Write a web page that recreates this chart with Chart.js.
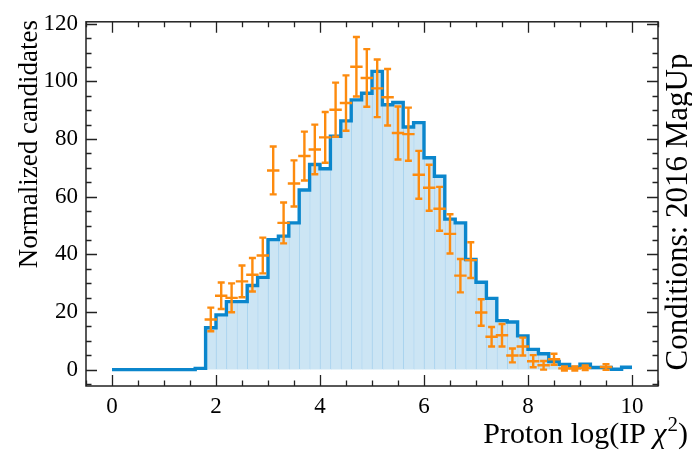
<!DOCTYPE html>
<html><head><meta charset="utf-8">
<script src="https://cdn.jsdelivr.net/npm/chart.js@4.4.0/dist/chart.umd.min.js"></script>
<style>html,body{margin:0;padding:0;background:#fff;}</style>
</head><body>
<canvas id="c" width="692" height="450"></canvas>
<script>
// ---------------- data ----------------
const binWidth = 0.2;
const binLeftEdges = [0.0,0.2,0.4,0.6,0.8,1.0,1.2,1.4,1.6,1.8,
  2.0,2.2,2.4,2.6,2.8,3.0,3.2,3.4,3.6,3.8,
  4.0,4.2,4.4,4.6,4.8,5.0,5.2,5.4,5.6,5.8,
  6.0,6.2,6.4,6.6,6.8,7.0,7.2,7.4,7.6,7.8,
  8.0,8.2,8.4,8.6,8.8,9.0,9.2,9.4,9.6,9.8];
const simValues = [0,0,0,0,0,0,0,0,0.4,14.5,
  19.0,23.6,23.6,29.2,32.0,45.1,46.3,50.9,62.3,71.2,
  69.7,81.0,86.3,93.6,95.9,103.5,91.9,92.7,84.2,85.7,
  73.5,67.1,52.2,50.9,38.2,30.3,24.7,17.0,16.5,11.7,
  7.0,5.5,2.8,1.8,0.7,1.9,0.7,0.7,0.1,0.8];
const dataCenters = [1.9,2.1,2.3,2.5,2.7,2.9,3.1,3.3,3.5,3.7,3.9,
  4.1,4.3,4.5,4.7,4.9,5.1,5.3,5.5,5.7,5.9,
  6.1,6.3,6.5,6.7,6.9,7.1,7.3,7.5,7.7,7.9,
  8.1,8.3,8.5,8.7,8.9,9.1,9.3,9.5,9.7,9.9];
const dataValues = [17.4,25.6,24.9,30.6,32.9,39.6,69.1,50.9,64.6,74.1,76.4,
  80.6,90.2,92.5,105.1,101.2,97.6,94.5,82.1,81.7,67.6,
  63.1,55.8,47.1,32.6,38.0,19.8,11.4,11.9,4.9,8.0,
  2.9,1.5,3.6,0.4,0.4,0.6,null,0.9,null,null];
const dataErrors = [4.1,4.6,5.0,5.5,5.8,6.2,8.3,7.1,8.0,8.5,8.6,
  8.8,9.4,9.6,10.3,10.0,10.0,9.8,9.2,9.2,8.3,
  8.0,7.6,6.8,5.8,6.2,4.6,3.4,3.9,2.4,3.1,
  2.1,1.5,1.9,0.7,0.7,0.8,null,1.0,null,null];
const xTickLabels = [0,2,4,6,8,10];
const yTickLabels = [0,20,40,60,80,100,120];
const xLabel = 'Proton log(IP ';
const yLabel = 'Normalized candidates';
const sideText = 'Conditions: 2016 MagUp';

// ---------------- style ----------------
const FONT = 'Liberation Serif';
const BLUE = '#0b86cc';
const FILL = '#cce5f4';
const EDGE = '#a6d1ee';
const ORANGE = '#fd8b0e';
const INK = '#222222';

const barData = binLeftEdges.map((e, i) => ({x: e + binWidth / 2, y: simValues[i]}));
const stepData = binLeftEdges.map((e, i) => ({x: e, y: simValues[i]}));
stepData.push({x: binLeftEdges[binLeftEdges.length - 1] + binWidth, y: simValues[simValues.length - 1]});
const pointData = dataCenters.map((c, i) => ({x: c, y: dataValues[i]}));

const framePlugin = {
  id: 'frame',
  afterDatasetsDraw(chart) {
    const {ctx, scales: {x, y}} = chart;
    const meta = chart.getDatasetMeta(2);
    ctx.save();
    ctx.strokeStyle = ORANGE;
    ctx.lineWidth = 2.4;
    meta.data.forEach((pt, i) => {
      const v = dataValues[i];
      if (v == null) return;
      const e = dataErrors[i];
      const c = dataCenters[i];
      const xl = x.getPixelForValue(c - binWidth / 2) - 1;
      const xr = x.getPixelForValue(c + binWidth / 2) + 1;
      const yt = y.getPixelForValue(v + e);
      const yb = y.getPixelForValue(v - e);
      ctx.beginPath();
      ctx.moveTo(xl, pt.y); ctx.lineTo(xr, pt.y);
      ctx.moveTo(pt.x, yt); ctx.lineTo(pt.x, yb);
      ctx.moveTo(pt.x - 3.5, yt); ctx.lineTo(pt.x + 3.5, yt);
      ctx.moveTo(pt.x - 3.5, yb); ctx.lineTo(pt.x + 3.5, yb);
      ctx.stroke();
    });
    ctx.restore();
  },
  afterDraw(chart) {
    const {ctx, chartArea: a, scales: {x, y}} = chart;
    ctx.save();
    ctx.strokeStyle = INK;
    ctx.lineWidth = 1.5;
    ctx.strokeRect(a.left, a.top, a.right - a.left, a.bottom - a.top);
    ctx.lineWidth = 1.3;
    ctx.beginPath();
    for (let v = -0.5; v <= 10.5 + 1e-9; v += 0.5) {
      const px = Math.round(x.getPixelForValue(v)) + 0.5;
      const major = Math.abs(v / 2 - Math.round(v / 2)) < 1e-6;
      const L = major ? 11 : 5.5;
      ctx.moveTo(px, a.bottom); ctx.lineTo(px, a.bottom - L);
      ctx.moveTo(px, a.top); ctx.lineTo(px, a.top + L);
    }
    for (let v = -5; v <= 120 + 1e-9; v += 5) {
      const py = Math.round(y.getPixelForValue(v)) + 0.5;
      const major = v % 20 === 0;
      const L = major ? 11 : 5.5;
      ctx.moveTo(a.left, py); ctx.lineTo(a.left + L, py);
      ctx.moveTo(a.right, py); ctx.lineTo(a.right - L, py);
    }
    ctx.stroke();

    ctx.fillStyle = '#000';
    ctx.save();
    ctx.font = '27px "' + FONT + '"';
    ctx.translate(30, 20);
    ctx.rotate(-Math.PI / 2);
    ctx.textAlign = 'right';
    ctx.textBaseline = 'middle';
    ctx.fillText(yLabel, 0, 0);
    ctx.restore();

    ctx.save();
    ctx.textBaseline = 'alphabetic';
    const fMain = '30px "' + FONT + '"';
    const fIt = 'italic 30px "' + FONT + '"';
    const fSup = '21px "' + FONT + '"';
    ctx.font = fMain; const w1 = ctx.measureText(xLabel).width; const w4 = ctx.measureText(')').width;
    ctx.font = fIt; const w2 = ctx.measureText('\u03c7').width;
    ctx.font = fSup; const w3 = ctx.measureText('2').width;
    const right = 688, base = 443;
    let cx = right - (w1 + w2 + w3 + 1 + w4);
    ctx.font = fMain; ctx.fillText(xLabel, cx, base); cx += w1;
    ctx.font = fIt; ctx.fillText('\u03c7', cx, base); cx += w2 + 1;
    ctx.font = fSup; ctx.fillText('2', cx, base - 12); cx += w3;
    ctx.font = fMain; ctx.fillText(')', cx, base);
    ctx.restore();

    ctx.save();
    ctx.font = '31px "' + FONT + '"';
    ctx.translate(679, 212);
    ctx.rotate(-Math.PI / 2);
    ctx.textAlign = 'center';
    ctx.textBaseline = 'middle';
    ctx.fillText(sideText, 0, 0);
    ctx.restore();
    ctx.restore();
  }
};

new Chart(document.getElementById('c'), {
  type: 'bar',
  data: {
    datasets: [
      {
        type: 'bar', data: barData, backgroundColor: FILL, borderColor: EDGE,
        borderWidth: {left: 1, right: 0, top: 0, bottom: 0}, borderSkipped: false,
        barPercentage: 1, categoryPercentage: 1, order: 3
      },
      {
        type: 'line', data: stepData, stepped: 'before', borderColor: BLUE, borderWidth: 3.4,
        pointRadius: 0, fill: false, order: 2, borderJoinStyle: 'miter'
      },
      {
        type: 'line', data: pointData, showLine: false, pointRadius: 0, borderColor: ORANGE, order: 1
      }
    ]
  },
  options: {
    responsive: false,
    animation: false,
    layout: {padding: {left: 0, right: 34, top: 13, bottom: 0}},
    plugins: {legend: {display: false}, tooltip: {enabled: false}},
    scales: {
      x: {
        type: 'linear', min: -0.5, max: 10.5, offset: false,
        grid: {display: false, drawTicks: false, offset: false}, border: {display: false},
        ticks: {font: {family: FONT, size: 23}, color: '#000', padding: 7, maxRotation: 0, autoSkip: false},
        afterBuildTicks: s => { s.ticks = xTickLabels.map(v => ({value: v})); },
        afterFit: s => { s.height = 64; }
      },
      y: {
        type: 'linear', min: -5.7, max: 120.7,
        grid: {display: false, drawTicks: false}, border: {display: false},
        ticks: {font: {family: FONT, size: 23}, color: '#000', padding: 8, autoSkip: false},
        afterBuildTicks: s => { s.ticks = yTickLabels.map(v => ({value: v})); },
        afterFit: s => { s.width = 86; }
      }
    }
  },
  plugins: [framePlugin]
});
</script>
</body></html>
